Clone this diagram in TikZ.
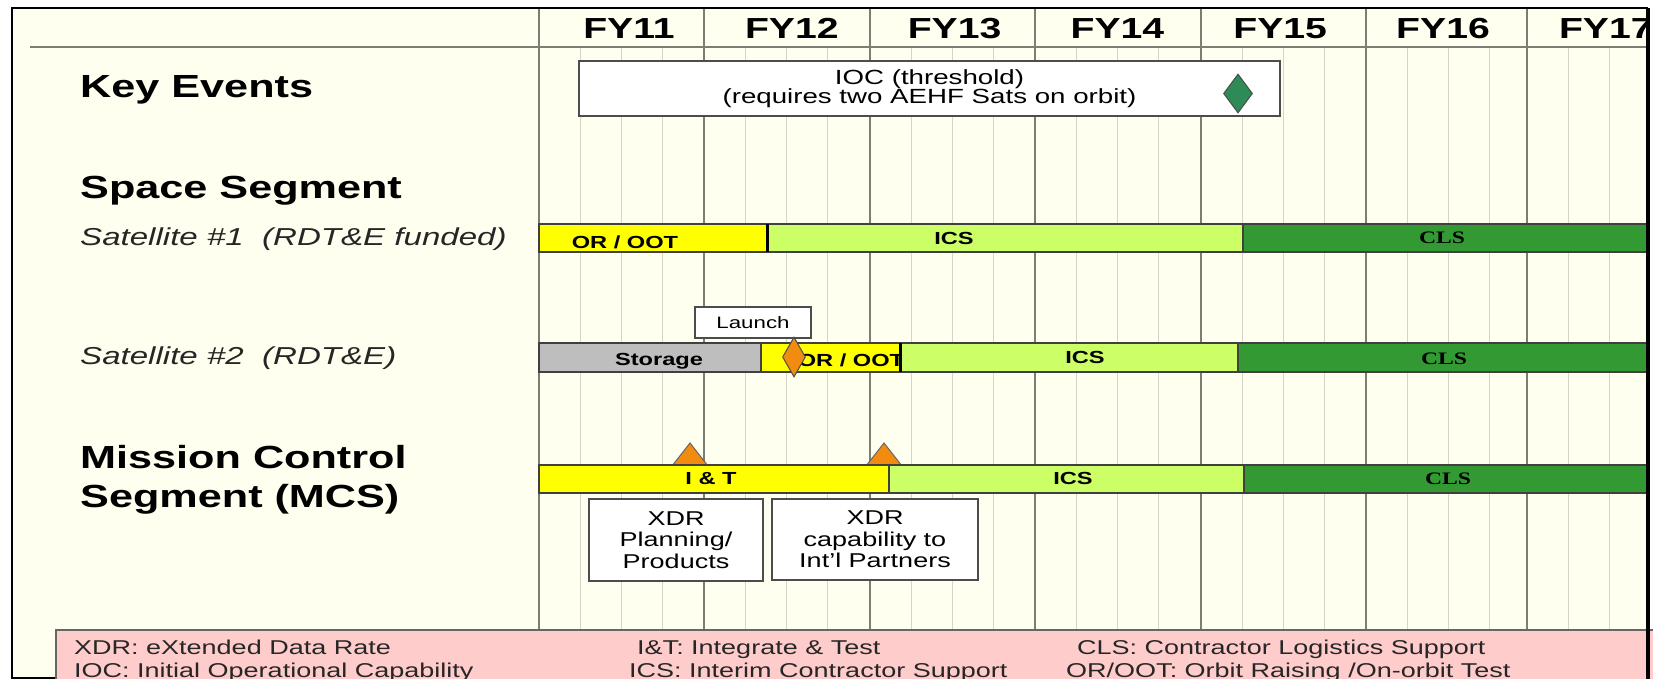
\documentclass[tikz,border=0pt]{standalone}
\usepackage{fontspec}
\setmainfont{Liberation Sans}[FakeStretch=1.35]
\newfontfamily\clsfont{Liberation Serif}[FakeStretch=1.35]
\definecolor{SlideCream}{RGB}{255,255,240}
\definecolor{BarYellow}{RGB}{255,255,0}
\definecolor{IcsGreen}{RGB}{204,255,102}
\definecolor{ClsGreen}{RGB}{51,153,51}
\definecolor{StorageGray}{RGB}{190,190,190}
\definecolor{LegendPink}{RGB}{255,204,204}
\definecolor{MarkOrange}{RGB}{242,140,16}
\definecolor{EventGreen}{RGB}{46,139,87}
\definecolor{GridMajor}{RGB}{125,125,115}
\definecolor{GridMinor}{RGB}{212,212,200}
\usetikzlibrary{shapes.geometric, positioning}

\begin{document}
\begin{tikzpicture}[x=1pt, y=-1pt,
	fyhdr/.style={font=\fontsize{29}{31}\selectfont\bfseries, anchor=base, inner sep=0},
	secttl/.style={font=\fontsize{32}{39}\selectfont\bfseries, anchor=base west, inner sep=0, align=left},
	satlbl/.style={font=\fontsize{24.5}{26}\selectfont\itshape, anchor=base west, inner sep=0, text=black!85},
	barlbl/.style={font=\fontsize{17.5}{19}\selectfont\bfseries, anchor=base, inner sep=0},
	clslbl/.style={barlbl, font=\fontsize{17.5}{19}\selectfont\clsfont\bfseries},
	bar/.style={draw=black!75, line width=1.3pt},
	notebox/.style={draw=black!70, fill=white, line width=1.2pt, align=center, inner sep=0,
		font=\fontsize{20}{21.5}\selectfont},
	milestone/.style={diamond, draw=black!70, line width=1pt, inner sep=0},
	legtxt/.style={font=\fontsize{20}{20}\selectfont, anchor=base west, inner sep=0, text=black!85},
	frame/.style={black, line width=2.5pt}]
	\useasboundingbox (0,0) rectangle (1653,679);
	\clip (0,0) rectangle (1653,679);
	\fill[white] (0,0) rectangle (1653,679);
	\fill[SlideCream] (12,8) rectangle (1648,678);

	\begin{scope}
		\clip (12,8) rectangle (1648,678);
		% quarters and years
		\foreach \x in {539,704,870,1035,1201,1366,1527}{
			\foreach \q in {1,2,3}
				\draw[GridMinor, line width=1pt] ({\x+41.2*\q},47) -- ({\x+41.2*\q},630);
			\draw[GridMajor, line width=1.6pt] (\x,8) -- (\x,630);
		}
		\draw[GridMajor, line width=1.6pt] (30,47) -- (1648,47);
		\foreach \yr [count=\i from 0] in {11,...,17}
			\node[fyhdr] (fy\yr) at ({629+162.8*\i},38.5) {FY\yr};

		% row titles
		\node[secttl] (key) at (80,98) {Key Events};
		\node[secttl] (space) at (80,199) {Space Segment};
		\node[satlbl] (sat1) at (80,245) {Satellite \#1\ \ (RDT\&E funded)};
		\node[satlbl] (sat2) at (80,364) {Satellite \#2\ \ (RDT\&E)};
		\node[secttl] (mcs) at (80,507) {Mission Control\\Segment (MCS)};

		% key events
		\node[notebox, font=\fontsize{20.5}{19.5}\selectfont, minimum width=701pt, minimum height=55pt]
			(ioc) at (929.5,88.5) {IOC (threshold)\\(requires two AEHF Sats on orbit)};
		\node[milestone, fill=EventGreen, minimum width=29pt, minimum height=39pt] (ioc mark) at (1238,93.5) {};

		% satellite #1
		\draw[bar, fill=BarYellow] (539,224) rectangle (767,252);
		\node[barlbl] (s1oot) at (625,248) {OR / OOT};
		\draw[bar, fill=IcsGreen] (767,224) rectangle (1243,252);
		\draw[line width=3pt] (767,224) -- (767,252);
		\node[barlbl] (s1ics) at (954,244) {ICS};
		\draw[bar, fill=ClsGreen] (1243,224) rectangle (1660,252);
		\node[clslbl] (s1cls) at (1442,243) {CLS};

		% satellite #2
		\node[notebox, font=\fontsize{16.5}{18}\selectfont, minimum width=116pt, minimum height=31pt]
			(launch) at (753,322.5) {Launch};
		\draw[bar, fill=StorageGray] (539,343) rectangle (761,372);
		\node[barlbl] (s2sto) at (659,365) {Storage};
		\draw[bar, fill=BarYellow] (761,343) rectangle (900,372);
		\node[barlbl] (s2oot) at (851,366) {OR / OOT};
		\draw[bar, fill=IcsGreen] (900,343) rectangle (1238,372);
		\draw[line width=3pt] (900,343) -- (900,372);
		\node[barlbl] (s2ics) at (1085,363) {ICS};
		\draw[bar, fill=ClsGreen] (1238,343) rectangle (1660,372);
		\node[clslbl] (s2cls) at (1444,364) {CLS};
		\node[milestone, fill=MarkOrange, minimum width=23pt, minimum height=40pt] (launch mark) at (794,357) {};

		% mission control segment
		\foreach \tx in {690,884}
			\filldraw[draw=black!60, fill=MarkOrange, line width=1pt]
				({\tx-18},466) -- (\tx,443) -- ({\tx+18},466) -- cycle;
		\draw[bar, fill=BarYellow] (539,465) rectangle (889,493);
		\node[barlbl] (mit) at (711,484) {I \& T};
		\draw[bar, fill=IcsGreen] (889,465) rectangle (1244,493);
		\node[barlbl] (mics) at (1073,484) {ICS};
		\draw[bar, fill=ClsGreen] (1244,465) rectangle (1660,493);
		\node[clslbl] (mcls) at (1448,484) {CLS};
		\node[notebox, minimum width=174pt, minimum height=82pt] (xdr plan) at (676,540)
			{XDR\\Planning/\\Products};
		\node[notebox, minimum width=206pt, minimum height=81pt] (xdr intl) at (875,539.5)
			{XDR\\capability to\\Int'l Partners};
	\end{scope}

	% legend
	\draw[frame] (12,678) -- (60,678);
	\draw[draw=black!60, fill=LegendPink, line width=1.2pt] (56,630) rectangle (1700,720);
	\node[legtxt] (leg xdr) at (74,654) {XDR: eXtended Data Rate};
	\node[legtxt] (leg ioc) at (74,677) {IOC: Initial Operational Capability};
	\node[legtxt] (leg it) at (637,654) {I\&T: Integrate \& Test};
	\node[legtxt] (leg ics) at (629,677) {ICS: Interim Contractor Support};
	\node[legtxt] (leg cls) at (1077,654) {CLS: Contractor Logistics Support};
	\node[legtxt] (leg oot) at (1066,677) {OR/OOT: Orbit Raising /On-orbit Test};

	\draw[frame] (12,690) -- (12,8) -- (1648,8);
	\draw[frame, line width=3.5pt] (1648,8) -- (1648,690);
\end{tikzpicture}
\end{document}
